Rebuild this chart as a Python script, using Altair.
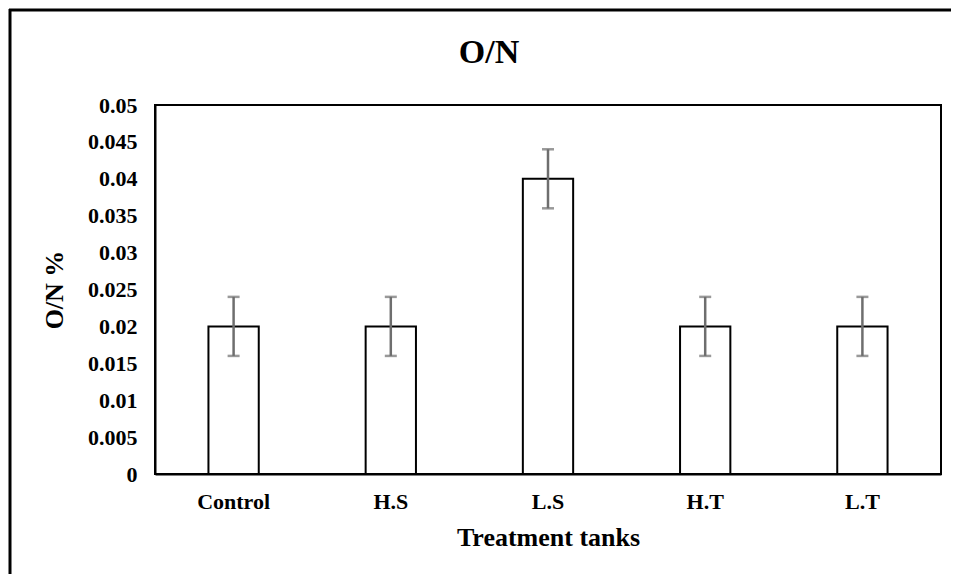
import altair as alt
import pandas as pd

categories = ["Control", "H.S", "L.S", "H.T", "L.T"]
values = [0.02, 0.02, 0.04, 0.02, 0.02]
errors = [0.004, 0.004, 0.004, 0.004, 0.004]
y_ticks = [0, 0.005, 0.01, 0.015, 0.02, 0.025, 0.03, 0.035, 0.04, 0.045, 0.05]
chart_title = "O/N"

df = pd.DataFrame({
    "cat": categories,
    "val": values,
    "lo": [v - e for v, e in zip(values, errors)],
    "hi": [v + e for v, e in zip(values, errors)],
})

FONT = "Liberation Serif"

x_axis = alt.Axis(labelAngle=0, ticks=False, labelPadding=17, titlePadding=12)
x_scale = alt.Scale(paddingInner=0.68, paddingOuter=0.34)
y_scale = alt.Scale(domain=[0, 0.05], nice=False)
y_axis = alt.Axis(values=y_ticks, format="~g", ticks=False, grid=False,
                  labelOverlap=False, labelPadding=18, titlePadding=20)


def xe():
    return alt.X("cat:N", sort=categories, title="Treatment tanks", scale=x_scale, axis=x_axis)


def ye(field):
    return alt.Y(field + ":Q", scale=y_scale, axis=y_axis, title="O/N %")


bars = alt.Chart(df).mark_bar(fill="white", stroke="black", strokeWidth=2).encode(
    x=xe(), y=ye("val"),
)
rule = alt.Chart(df).mark_rule(color="#6e6e6e", strokeWidth=2.5).encode(
    x=xe(), y=ye("lo"), y2="hi:Q",
)
cap_lo = alt.Chart(df).mark_tick(color="#6e6e6e", size=12, thickness=2.5).encode(
    x=xe(), y=ye("lo"),
)
cap_hi = alt.Chart(df).mark_tick(color="#6e6e6e", size=12, thickness=2.5).encode(
    x=xe(), y=ye("hi"),
)

one = alt.Data(values=[{"t": chart_title}])

frame_top = alt.Chart(one).mark_rule(color="black", strokeWidth=3).encode(
    x=alt.value(-146), x2=alt.value(800), y=alt.value(-95),
)
frame_left = alt.Chart(one).mark_rule(color="black", strokeWidth=3).encode(
    x=alt.value(-145), y=alt.value(-96), y2=alt.value(500),
)

title_text = alt.Chart(one).mark_text(
    font=FONT, fontSize=34, fontWeight="bold", color="black",
    align="center", baseline="alphabetic",
).encode(
    x=alt.value(334), y=alt.value(-42), text="t:N",
)

chart = alt.layer(bars, rule, cap_lo, cap_hi, frame_top, frame_left, title_text).properties(
    width=786,
    height=369,
    background="white",
    autosize=alt.AutoSizeParams(type="none"),
    padding={"left": 147, "top": 97, "right": 10, "bottom": 100},
).configure_view(
    stroke="black", strokeWidth=2
).configure_axis(
    labelFont=FONT, titleFont=FONT, labelFontSize=22, titleFontSize=26,
    labelFontWeight="bold", titleFontWeight="bold",
    labelColor="black", titleColor="black",
    domainColor="black", domainWidth=2,
)

chart.save("out.html", embed_options={"renderer": "svg", "actions": False})
